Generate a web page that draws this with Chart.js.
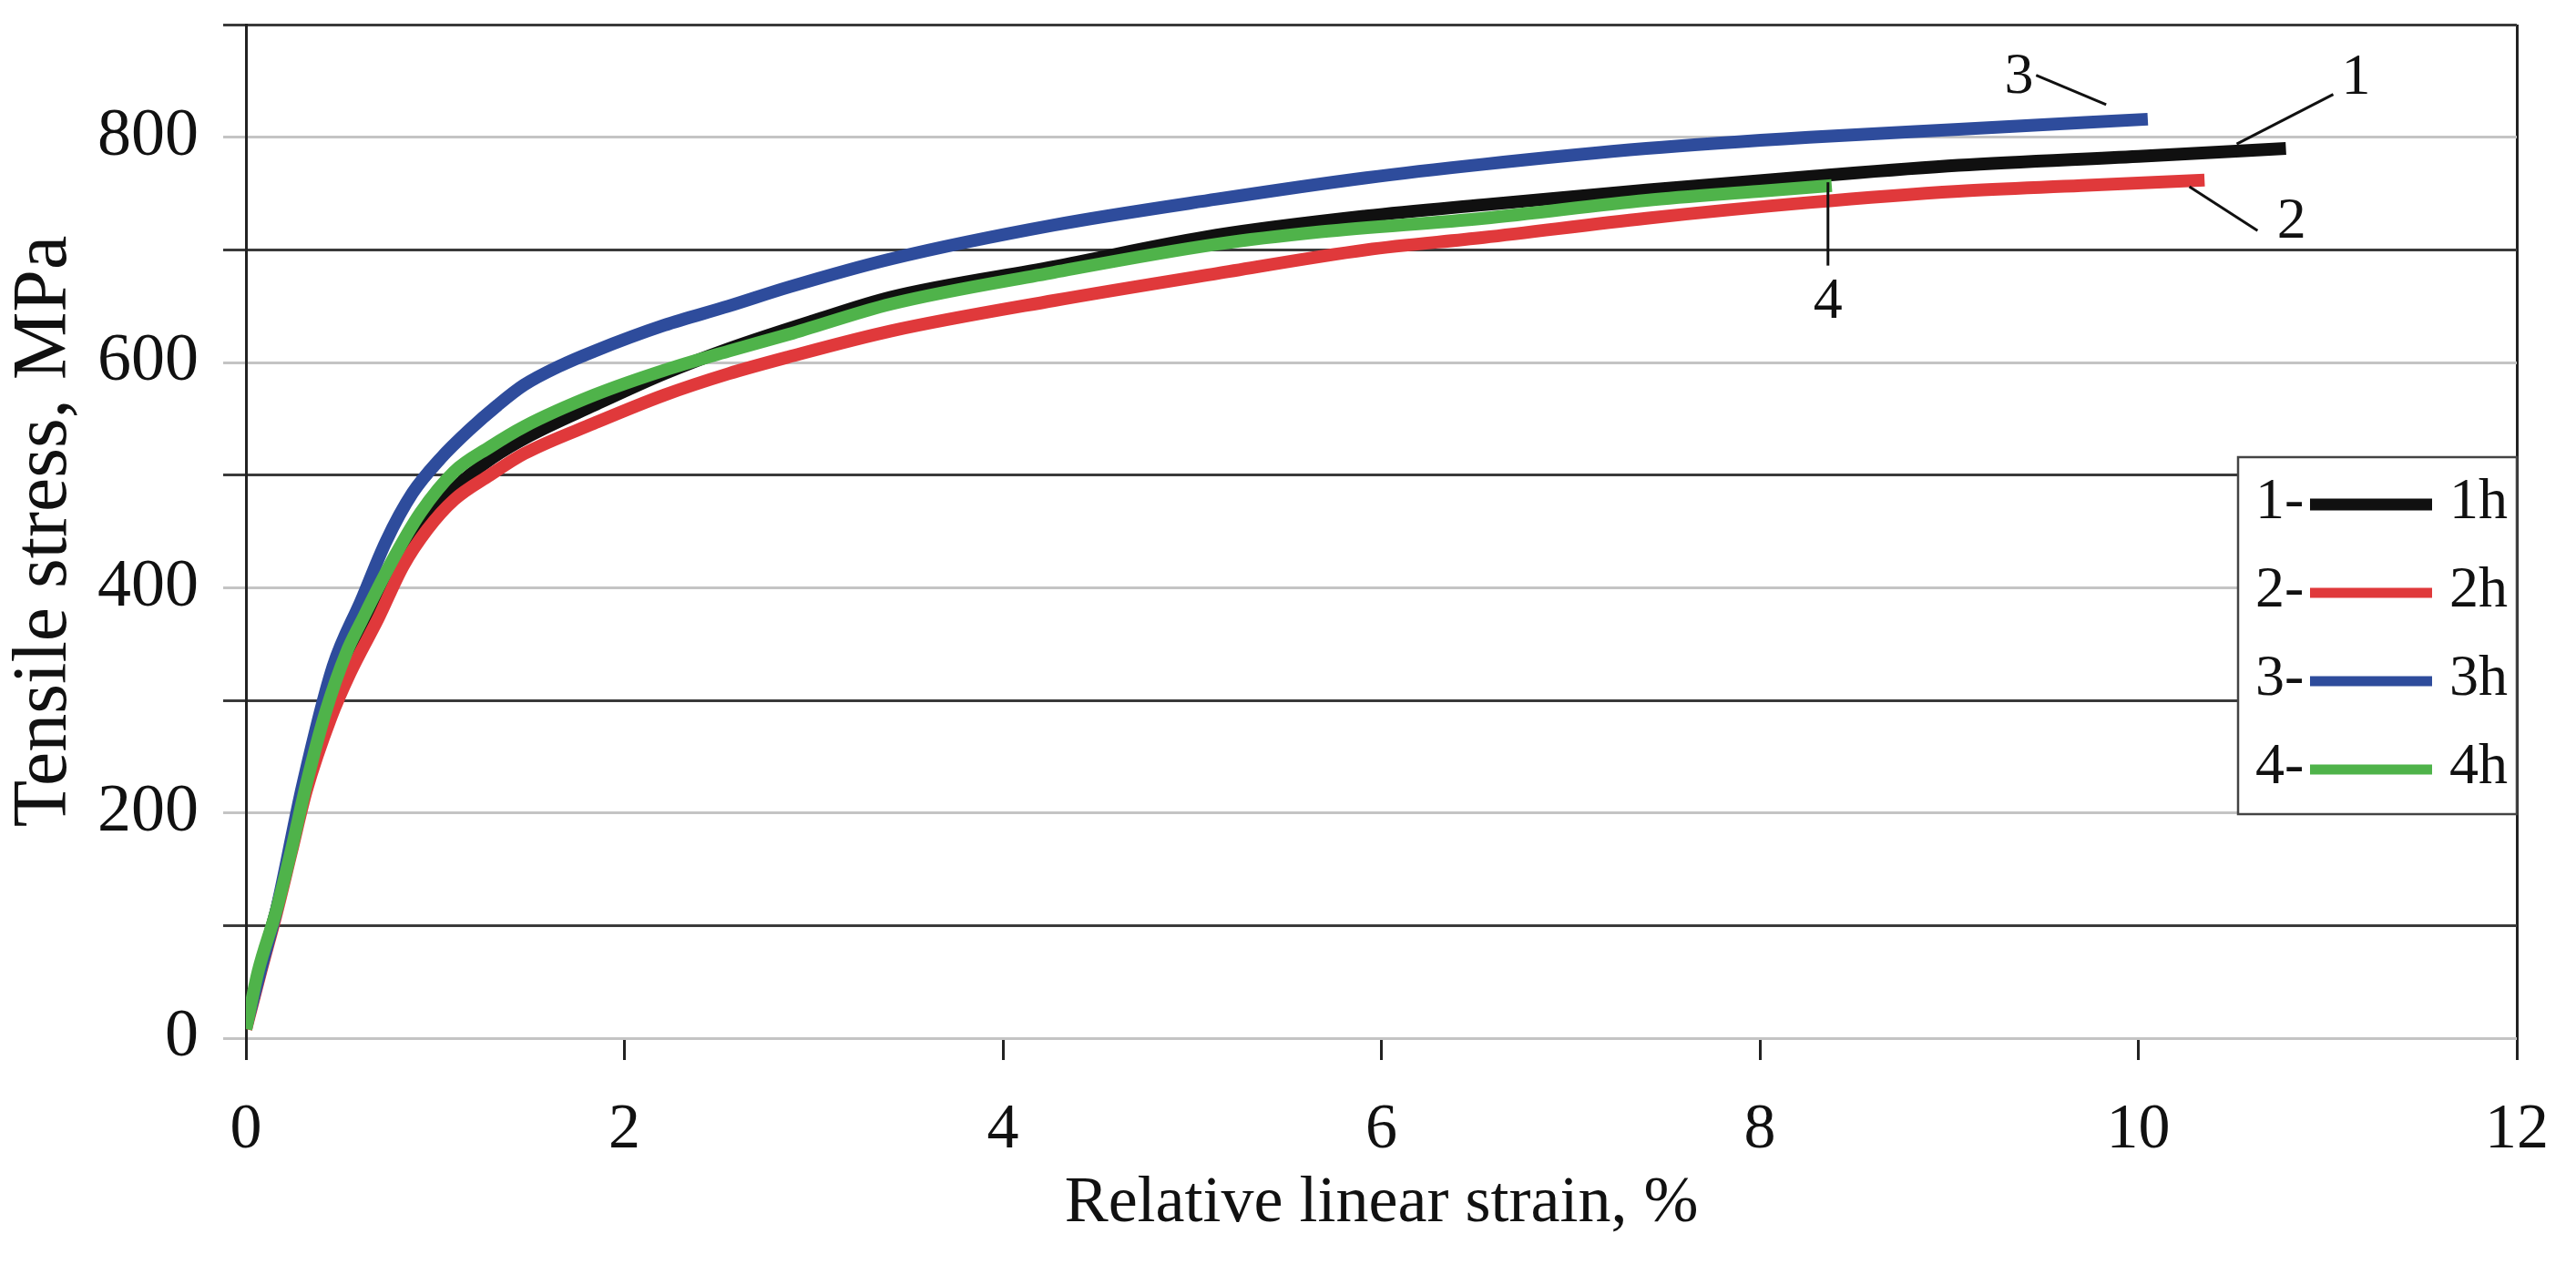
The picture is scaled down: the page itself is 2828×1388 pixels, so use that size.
<!DOCTYPE html>
<html>
<head>
<meta charset="utf-8">
<title>Tensile stress vs strain</title>
<script src="https://cdn.jsdelivr.net/npm/chart.js@4.4.1/dist/chart.umd.min.js"></script>
<style>
  html, body { margin:0; padding:0; background:#fff; }
  #wrap { width:2828px; height:1388px; position:relative; }
</style>
</head>
<body>
<div id="wrap"><canvas id="chartCurvas"></canvas></div>
<script>
// ---------- datos ----------
const strain1 = [0, 0.08, 0.16, 0.24, 0.33, 0.42, 0.5, 0.62, 0.75, 0.9, 1.1, 1.3, 1.5, 1.84, 2.21, 2.55, 3.0, 3.41, 4.27, 5.13, 5.92, 6.54, 7.4, 8.26, 9.05, 10.0, 10.78];
const stress1 = [10, 65, 113, 168, 232, 285, 318, 365, 410, 450, 488, 515, 535, 562, 590, 612, 637, 658, 685, 713, 730, 740, 753, 765, 775, 783, 790];

const strain2 = [0, 0.08, 0.16, 0.24, 0.32, 0.45, 0.55, 0.7, 0.83, 0.96, 1.1, 1.29, 1.47, 1.84, 2.21, 2.55, 2.87, 3.41, 4.27, 5.13, 5.92, 6.54, 7.4, 8.26, 9.05, 9.7, 10.35];
const stress2 = [8, 60, 110, 165, 220, 285, 324, 373, 419, 452, 478, 500, 519, 546, 571, 590, 605, 628, 655, 679, 700, 711, 728, 742, 752, 757, 762];

const strain3 = [0, 0.08, 0.16, 0.3, 0.46, 0.61, 0.74, 0.88, 1.03, 1.18, 1.33, 1.47, 1.66, 1.84, 2.21, 2.55, 2.87, 3.41, 4.27, 5.13, 5.92, 6.54, 7.4, 8.26, 9.05, 10.05];
const stress3 = [10, 62, 113, 225, 330, 389, 441, 484, 515, 540, 562, 580, 597, 610, 633, 650, 667, 692, 722, 745, 764, 776, 790, 800, 807, 816];

const strain4 = [0, 0.064, 0.16, 0.24, 0.32, 0.42, 0.53, 0.61, 0.77, 0.92, 1.1, 1.29, 1.47, 1.84, 2.21, 2.55, 2.87, 3.41, 4.27, 5.13, 5.68, 6.54, 7.4, 8.0, 8.38];
const stress4 = [8, 59, 113, 167, 226, 289, 342, 370, 423, 466, 503, 525, 543, 571, 593, 610, 625, 652, 680, 705, 716, 728, 744, 752, 757];

const seriesNum  = ['1-', '2-', '3-', '4-'];
const seriesName = ['1h', '2h', '3h', '4h'];
const colores    = ['#101010', '#e0393b', '#2e4c9c', '#4fb34a'];

const xTickStep = 2;
const yLabelStep = 200;

// etiquetas con línea guía (coordenadas en unidades del gráfico)
const calloutText = ['3', '1', '2', '4'];
const calloutAt   = [[9.37, 853], [11.15, 852], [10.81, 724], [8.36, 653]];
const calloutFrom = [[9.46, 855], [11.03, 838], [10.27, 756], [8.36, 760]];
const calloutTo   = [[9.83, 829], [10.52, 794], [10.63, 717], [8.36, 686]];

const FUENTE = '"Liberation Serif", "Times New Roman", serif';

// ---------- plugins ----------
const calloutsPlugin = {
  id: 'callouts',
  afterDatasetsDraw(chart) {
    const {ctx, scales:{x, y}} = chart;
    ctx.save();
    ctx.strokeStyle = '#111'; ctx.lineWidth = 3;
    ctx.fillStyle = '#111';
    ctx.font = `64px ${FUENTE}`;
    ctx.textAlign = 'center'; ctx.textBaseline = 'middle';
    calloutText.forEach((t, i) => {
      ctx.beginPath();
      ctx.moveTo(x.getPixelForValue(calloutFrom[i][0]), y.getPixelForValue(calloutFrom[i][1]));
      ctx.lineTo(x.getPixelForValue(calloutTo[i][0]), y.getPixelForValue(calloutTo[i][1]));
      ctx.stroke();
      ctx.fillText(t, x.getPixelForValue(calloutAt[i][0]), y.getPixelForValue(calloutAt[i][1]));
    });
    ctx.restore();
  }
};

const legendBoxPlugin = {
  id: 'legendBox',
  afterDraw(chart) {
    const {ctx, chartArea} = chart;
    const w = 306, h = 392;
    const right = chartArea.right, left = right - w, top = chartArea.top + 475;
    ctx.save();
    ctx.fillStyle = '#fff';
    ctx.fillRect(left, top, w, h);
    ctx.strokeStyle = '#444'; ctx.lineWidth = 2.5;
    ctx.strokeRect(left, top, w, h);
    ctx.font = `64px ${FUENTE}`;
    ctx.textBaseline = 'middle'; ctx.textAlign = 'left';
    seriesName.forEach((n, i) => {
      const cy = top + 50 + i * 97;
      ctx.fillStyle = '#111';
      ctx.fillText(seriesNum[i], left + 19, cy);
      ctx.fillText(n, left + 232, cy);
      ctx.strokeStyle = colores[i];
      ctx.lineWidth = i === 0 ? 13 : 11;
      ctx.beginPath();
      ctx.moveTo(left + 79, cy + 2);
      ctx.lineTo(left + 213, cy + 2);
      ctx.stroke();
    });
    ctx.restore();
  }
};

// ---------- gráfico ----------
const pares = (xs, ys) => xs.map((v, i) => ({x: v, y: ys[i]}));
const series = [[strain1, stress1], [strain2, stress2], [strain3, stress3], [strain4, stress4]];

const datasets = series.map((s, i) => ({
  label: seriesName[i],
  data: pares(s[0], s[1]),
  borderColor: colores[i],
  backgroundColor: colores[i],
  borderWidth: 14,
  pointRadius: 0,
  cubicInterpolationMode: 'monotone',
  order: 4 - i
}));

new Chart(document.getElementById('chartCurvas').getContext('2d'), {
  type: 'line',
  data: { datasets },
  options: {
    responsive: true, maintainAspectRatio: false, animation: false,
    layout: { padding: { top: 27, right: 65, left: 0, bottom: 0 } },
    plugins: { legend: { display: false }, tooltip: { enabled: false } },
    scales: {
      x: {
        type: 'linear', min: 0, max: 12,
        afterFit: s => { s.height = 248; s.paddingLeft = 0; s.paddingRight = 0; },
        ticks: { stepSize: xTickStep, color: '#111', padding: 36, font: { family: FUENTE, size: 70 } },
        grid: {
          color: c => c.tick && c.tick.value === 12 ? '#222' : 'rgba(0,0,0,0)',
          tickColor: '#222', lineWidth: 3, tickLength: 24
        },
        border: { display: false },
        title: { display: true, text: 'Relative linear strain, %', color: '#111',
                 font: { family: FUENTE, size: 72 }, padding: { top: 0, bottom: 23 } }
      },
      y: {
        min: 0, max: 900,
        afterFit: s => { s.width = 270; s.paddingTop = 0; s.paddingBottom = 0; },
        ticks: { stepSize: 100, color: '#111', padding: 27, font: { family: FUENTE, size: 74 },
                 callback: v => (v % yLabelStep === 0 && v < 900) ? v : '' },
        grid: {
          color: c => (c.tick && c.tick.value % 200 === 100) ? '#3a3a3a' : '#c4c4c4',
          lineWidth: 3, tickLength: 25
        },
        border: { display: true, color: '#222', width: 3 },
        title: { display: true, text: 'Tensile stress, MPa', color: '#111',
                 font: { family: FUENTE, size: 84 }, padding: { top: 0, bottom: 0 } }
      }
    }
  },
  plugins: [calloutsPlugin, legendBoxPlugin]
});
</script>
</body>
</html>
